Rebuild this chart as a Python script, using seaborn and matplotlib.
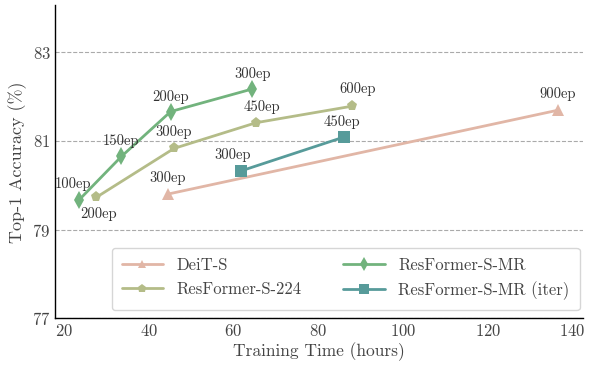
import matplotlib
matplotlib.use("Agg")
import matplotlib.pyplot as plt
import pandas as pd
import seaborn as sns

# data
deit_time = [44.5, 136.5]
deit_acc = [79.80, 81.69]
deit_ep = ["300ep", "900ep"]

r224_time = [27.7, 46.0, 65.4, 87.9]
r224_acc = [79.73, 80.83, 81.41, 81.78]
r224_ep = ["200ep", "300ep", "450ep", "600ep"]

mr_time = [23.6, 33.6, 45.2, 64.5]
mr_acc = [79.67, 80.65, 81.66, 82.17]
mr_ep = ["100ep", "150ep", "200ep", "300ep"]

iter_time = [61.7, 86.2]
iter_acc = [80.32, 81.09]
iter_ep = ["300ep", "450ep"]

sns.set_style("white")
plt.rcParams["font.family"] = "serif"
plt.rcParams["font.serif"] = ["cmr10", "DejaVu Serif"]
plt.rcParams["mathtext.fontset"] = "cm"
plt.rcParams["axes.formatter.use_mathtext"] = True
plt.rcParams["axes.unicode_minus"] = False

series = [
    ("DeiT-S", deit_time, deit_acc, deit_ep, "#e1b6a6", "^",
     [(0, 16), (0, 16)]),
    ("ResFormer-S-224", r224_time, r224_acc, r224_ep, "#b4bc88", "p",
     [(2, -17), (0, 16), (6, 16), (6, 17)]),
    ("ResFormer-S-MR", mr_time, mr_acc, mr_ep, "#72b37d", "d",
     [(-6, 16), (0, 15), (0, 15), (0, 15)]),
    ("ResFormer-S-MR (iter)", iter_time, iter_acc, iter_ep, "#579b9a", "s",
     [(-8, 16), (-3, 15)]),
]

fig, ax = plt.subplots(figsize=(5.95, 3.66), dpi=100)

for name, t, acc, ep, color, mk, offs in series:
    df = pd.DataFrame({"time": t, "acc": acc})
    ms = 9 if mk in ("d", "s") else 8
    sns.lineplot(data=df, x="time", y="acc", ax=ax, color=color, marker=mk,
                 markersize=ms, markeredgewidth=0, linewidth=2, label=name)
    for xi, yi, lab, off in zip(t, acc, ep, offs):
        ax.annotate(lab, (xi, yi), xytext=off, textcoords="offset pixels",
                    ha="center", va="center", fontsize=10.5, color="#333333")

ax.set_xlim(18, 142.5)
ax.set_ylim(77, 84.05)
ax.set_xticks([20, 40, 60, 80, 100, 120, 140])
ax.set_yticks([77, 79, 81, 83])
ax.yaxis.grid(True, linestyle="--", color="#aaaaaa", linewidth=0.8)
ax.tick_params(axis="both", labelsize=12, colors="#444444", length=0)
ax.set_xlabel("Training Time (hours)", fontsize=12.5, color="#444444", labelpad=2)
ax.set_ylabel("Top-1 Accuracy (%)", fontsize=13, color="#444444", labelpad=4)
for s in ("left", "bottom"):
    ax.spines[s].set_color("black")
    ax.spines[s].set_linewidth(1)
sns.despine(ax=ax)

leg = ax.legend(loc="lower center", ncol=2, fontsize=12, frameon=True,
                columnspacing=2.5, handlelength=2.5, borderpad=0.6,
                markerscale=0.8, bbox_to_anchor=(0.55, 0.0))
for txt in leg.get_texts():
    txt.set_color("#444444")

fig.subplots_adjust(left=0.093, right=0.98, top=0.985, bottom=0.13)
fig.savefig("out.png", dpi=100)
